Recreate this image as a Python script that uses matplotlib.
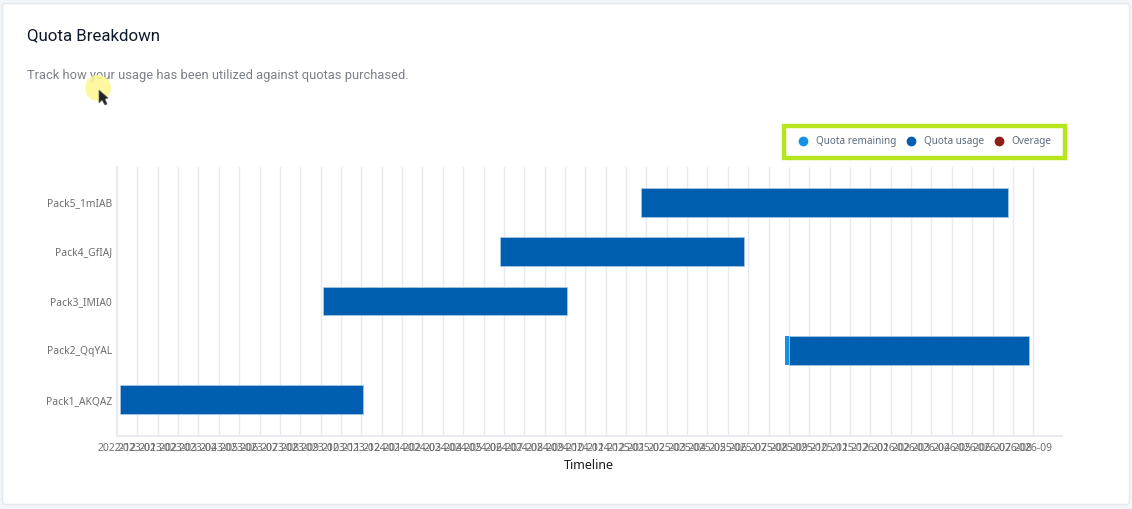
import pandas as pd
import matplotlib
matplotlib.use('Agg')
import matplotlib.pyplot as plt
from matplotlib.lines import Line2D
from matplotlib.patches import Circle, FancyBboxPatch, Polygon, Rectangle

# Data, in months since the first tick
packs = ['Pack1_AKQAZ', 'Pack2_QqYAL', 'Pack3_IMIA0', 'Pack4_GfIAJ', 'Pack5_1mIAB']
starts = [0.15, 32.8, 10.1, 18.8, 25.75]
remaining = [0.0, 0.2, 0.0, 0.0, 0.0]
usage = [11.93, 11.8, 12.0, 12.0, 18.0]
overage = [0.0, 0.0, 0.0, 0.0, 0.0]
months = pd.date_range('2022-12-01', '2026-09-01', freq='MS').strftime('%Y-%m').tolist()

W, H = 1132, 509
fig = plt.figure(figsize=(W / 100, H / 100), dpi=100, facecolor='#f2f6f9')

# Card and header drawn in pixel coordinates
bg = fig.add_axes([0, 0, 1, 1])
bg.set_xlim(0, W)
bg.set_ylim(H, 0)
bg.axis('off')
bg.add_patch(FancyBboxPatch((2.5, 3.5), 1127, 501, boxstyle='round,pad=0,rounding_size=3',
                            facecolor='white', edgecolor='#e3e8ee', linewidth=1))
bg.text(27, 35.5, 'Quota Breakdown', family='Roboto', fontsize=12.15, color='#0e1a2b', va='center')
bg.text(27, 75.5, 'Track how your usage has been utilized against quotas purchased.',
        family='Roboto', fontsize=9.25, color='#7a8088', va='center')
# Green highlight box round the legend
bg.add_patch(Rectangle((784.2, 126.2), 280.6, 31.6, facecolor='white', edgecolor='#b5e61d', linewidth=3.2))

# Main chart
ax = fig.add_axes([117 / W, 1 - 436 / H, 945 / W, 269 / H], facecolor='none')
x = list(range(len(months)))
ax.set_xlim(0, 46.41)
ax.set_ylim(-0.73, 4.71)
ax.set_axisbelow(True)
ax.grid(axis='x', color='#e8eaf0', linewidth=1)
usage_left = [s + r for s, r in zip(starts, remaining)]
ax.barh(packs, usage, left=usage_left, height=0.585, color='#005eb0',
        edgecolor='#a9cbe8', linewidth=0.5)
ax.barh(packs, remaining, left=starts, height=0.585, color='#1192e8')
overage_left = [u + v for u, v in zip(usage_left, usage)]
ax.barh(packs, overage, left=overage_left, height=0.585, color='#8f1d16')

ax.set_xticks(x)
ax.set_xticklabels(months, family='Noto Sans', fontsize=7.5, color='#6e6e6e')
ax.tick_params(axis='x', length=0, pad=5)
ax.tick_params(axis='y', length=0, pad=3.5, labelsize=7.4, labelcolor='#6e6e6e')
for label in ax.get_yticklabels():
    label.set_family('Noto Sans')
ax.set_xlabel('Timeline', family='Noto Sans', fontsize=9, color='#1a1a1a')
ax.xaxis.set_label_coords((589 - 117) / 945, -0.084)

for side in ['top', 'right']:
    ax.spines[side].set_visible(False)
for side in ['left', 'bottom']:
    ax.spines[side].set_color('#e8eaf0')
    ax.spines[side].set_linewidth(1.5)

# Legend
handles = [Line2D([], [], marker='o', linestyle='none', markersize=6, color=c)
           for c in ['#1192e8', '#005eb0', '#8f1d16']]
leg = fig.legend(handles, ['Quota remaining', 'Quota usage', 'Overage'], ncol=3,
                 loc='center', bbox_to_anchor=(924 / W, 1 - 142 / H), frameon=False,
                 prop={'family': 'Noto Sans', 'size': 7.2}, labelcolor='#5b6b7b',
                 columnspacing=0.75, handletextpad=0.6, handlelength=1.4,
                 borderpad=0, borderaxespad=0)

# Mouse pointer with its yellow highlight, on top of everything
fg = fig.add_axes([0, 0, 1, 1], facecolor='none')
fg.set_xlim(0, W)
fg.set_ylim(H, 0)
fg.axis('off')
fg.add_patch(Circle((98, 88), 13, facecolor='#fdf78f', edgecolor='none', alpha=0.85))
fg.add_patch(Polygon([(99, 90), (99, 103), (102, 100), (105, 105), (107, 104), (105, 99), (108, 98)],
                     facecolor='#222222', edgecolor='#666666', linewidth=0.5))

fig.savefig('out.png', dpi=100, facecolor=fig.get_facecolor())
